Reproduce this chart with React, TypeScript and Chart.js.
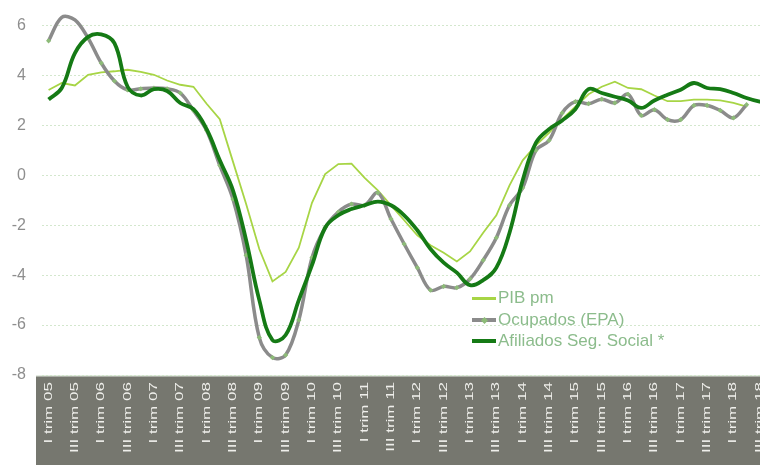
import React, { useEffect, useRef } from 'react';
import { Chart, registerables } from 'chart.js';

Chart.register(...registerables);

const categories = [
  'I trim 05', 'II trim 05', 'III trim 05', 'IV trim 05',
  'I trim 06', 'II trim 06', 'III trim 06', 'IV trim 06',
  'I trim 07', 'II trim 07', 'III trim 07', 'IV trim 07',
  'I trim 08', 'II trim 08', 'III trim 08', 'IV trim 08',
  'I trim 09', 'II trim 09', 'III trim 09', 'IV trim 09',
  'I trim 10', 'II trim 10', 'III trim 10', 'IV trim 10',
  'I trim 11', 'II trim 11', 'III trim 11', 'IV trim 11',
  'I trim 12', 'II trim 12', 'III trim 12', 'IV trim 12',
  'I trim 13', 'II trim 13', 'III trim 13', 'IV trim 13',
  'I trim 14', 'II trim 14', 'III trim 14', 'IV trim 14',
  'I trim 15', 'II trim 15', 'III trim 15', 'IV trim 15',
  'I trim 16', 'II trim 16', 'III trim 16', 'IV trim 16',
  'I trim 17', 'II trim 17', 'III trim 17', 'IV trim 17',
  'I trim 18', 'II trim 18', 'III trim 18', 'IV trim 18',
];

const pibPm = [
  3.42, 3.7, 3.6, 4.03, 4.13, 4.17, 4.23, 4.15, 4.03, 3.8, 3.63, 3.55,
  2.87, 2.25, 0.55, -1.15, -2.95, -4.25, -3.87, -2.9, -1.1, 0.05, 0.45, 0.47,
  -0.1, -0.6, -1.2, -1.8, -2.4, -2.8, -3.1, -3.45, -3.05, -2.3, -1.6, -0.4,
  0.6, 1.2, 1.7, 2.25, 2.75, 3.25, 3.55, 3.75, 3.5, 3.45, 3.2, 2.97,
  2.97, 3.03, 3.03, 3.0, 2.9, 2.75, null, null,
];

const ocupadosEpa = [
  5.39, 6.33, 6.23, 5.5, 4.5, 3.78, 3.42, 3.47, 3.5, 3.47, 3.3, 2.6,
  1.8, 0.4, -0.95, -3.2, -6.5, -7.3, -7.2, -5.8, -3.3, -2.1, -1.47, -1.15,
  -1.2, -0.7, -1.75, -2.75, -3.7, -4.6, -4.45, -4.5, -4.15, -3.4, -2.5, -1.2,
  -0.5, 1.0, 1.4, 2.5, 2.95, 2.87, 3.05, 2.9, 3.25, 2.4, 2.63, 2.23,
  2.23, 2.8, 2.8, 2.6, 2.3, 2.83, null, null,
];

const afiliadosSS = [
  3.04, 3.5, 4.9, 5.55, 5.65, 5.3, 3.55, 3.2, 3.45, 3.38, 2.9, 2.65,
  1.85, 0.6, -0.6, -2.6, -5.0, -6.6, -6.4, -5.0, -3.6, -2.1, -1.6, -1.35,
  -1.2, -1.05, -1.2, -1.6, -2.2, -2.95, -3.5, -3.9, -4.4, -4.2, -3.7, -2.3,
  -0.2, 1.3, 1.85, 2.2, 2.65, 3.45, 3.3, 3.15, 3.0, 2.7, 3.0, 3.23,
  3.43, 3.7, 3.5, 3.45, 3.3, 3.1, 2.95, 2.85,
];

const yMin = -8;
const yMax = 6;
const yStep = 2;

const seriesNames = ['PIB pm', 'Ocupados (EPA)', 'Afiliados Seg. Social *'];

const C_PIB = '#a7d545';
const C_OCU = '#8b8b8b';
const C_OCU_MARK = '#8dbb78';
const C_AFI = '#157a15';
const C_BAND = '#76776f';
const FONT = '"Liberation Sans", Arial, sans-serif';

const bandPlugin = {
  id: 'bandAxis',
  beforeDraw(chart: any) {
    const { ctx, chartArea, width, height } = chart;
    ctx.save();
    ctx.fillStyle = C_BAND;
    ctx.fillRect(36, chartArea.bottom + 1, width - 36, height - chartArea.bottom - 1);
    ctx.fillStyle = '#e4ebe1';
    ctx.fillRect(36, chartArea.bottom, width - 36, 1.5);
    ctx.restore();
  },
  afterDraw(chart: any) {
    const { ctx, chartArea } = chart;
    const xs = chart.scales.x;
    ctx.save();
    ctx.fillStyle = '#efefeb';
    ctx.font = '11px ' + FONT;
    ctx.textAlign = 'right';
    ctx.textBaseline = 'middle';
    categories.forEach((lab, i) => {
      if (i % 2 !== 0) return;
      const x = xs.getPixelForValue(i);
      ctx.save();
      ctx.translate(x, chartArea.bottom + 7);
      ctx.rotate(-Math.PI / 2);
      ctx.scale(1.55, 1);
      ctx.fillText(lab, 0, 0);
      ctx.restore();
    });
    ctx.restore();
  },
};

export default function App() {
  const ref = useRef<HTMLCanvasElement | null>(null);

  useEffect(() => {
    if (!ref.current) return;
    const chart = new Chart(ref.current, {
      type: 'line',
      data: {
        labels: categories,
        datasets: [
          {
            label: seriesNames[0],
            data: pibPm,
            borderColor: C_PIB,
            borderWidth: 1.8,
            pointRadius: 0,
            tension: 0,
            order: 2,
            clip: false,
          },
          {
            label: seriesNames[1],
            data: ocupadosEpa,
            borderColor: C_OCU,
            borderWidth: 3.5,
            pointStyle: 'rectRot',
            pointRadius: 2.6,
            pointBackgroundColor: C_OCU_MARK,
            pointBorderWidth: 0,
            tension: 0.35,
            order: 1,
            clip: false,
          },
          {
            label: seriesNames[2],
            data: afiliadosSS,
            borderColor: C_AFI,
            borderWidth: 3.8,
            pointRadius: 0,
            tension: 0.4,
            order: 0,
            clip: false,
          },
        ],
      },
      options: {
        responsive: false,
        animation: false,
        layout: { padding: { left: 12, right: 20.5, top: 23, bottom: 90 } },
        plugins: {
          legend: { display: false },
          tooltip: { enabled: false },
        },
        scales: {
          x: {
            offset: true,
            grid: { display: false, drawTicks: false },
            border: { display: false },
            ticks: { display: false },
            afterFit(scale: any) {
              scale.height = 0;
            },
          },
          y: {
            min: yMin,
            max: yMax,
            ticks: {
              stepSize: yStep,
              padding: 16,
              color: '#8e8e8e',
              font: { family: FONT, size: 16 },
            },
            grid: { color: '#d3e7cd', lineWidth: 1, drawTicks: false },
            border: { display: false, dash: [2, 2] },
            afterFit(scale: any) {
              scale.width = 30;
            },
          },
        },
      },
      plugins: [bandPlugin],
    });
    return () => chart.destroy();
  }, []);

  const legendRows = [
    { name: seriesNames[0], color: C_PIB, h: 3, marker: false, cy: 298 },
    { name: seriesNames[1], color: C_OCU, h: 4, marker: true, cy: 320 },
    { name: seriesNames[2], color: C_AFI, h: 3.5, marker: false, cy: 341 },
  ];

  return (
    <div
      style={{
        position: 'fixed',
        left: 0,
        top: 0,
        width: 760,
        height: 465,
        overflow: 'hidden',
        background: '#ffffff',
      }}
    >
      <canvas ref={ref} width={800} height={465} style={{ display: 'block', width: 800, height: 465 }} />
      {legendRows.map((r) => (
        <div
          key={r.name}
          style={{
            position: 'absolute',
            left: 472,
            top: r.cy - 10,
            height: 20,
            display: 'flex',
            alignItems: 'center',
            whiteSpace: 'nowrap',
          }}
        >
          <div style={{ position: 'relative', width: 24, height: r.h, background: r.color }}>
            {r.marker && (
              <div
                style={{
                  position: 'absolute',
                  left: 9.5,
                  top: r.h / 2 - 2.5,
                  width: 5,
                  height: 5,
                  background: C_OCU_MARK,
                  transform: 'rotate(45deg)',
                }}
              />
            )}
          </div>
          <span
            style={{
              marginLeft: 2,
              fontFamily: FONT,
              fontSize: 17,
              color: '#8cbc8c',
              lineHeight: '20px',
            }}
          >
            {r.name}
          </span>
        </div>
      ))}
    </div>
  );
}
